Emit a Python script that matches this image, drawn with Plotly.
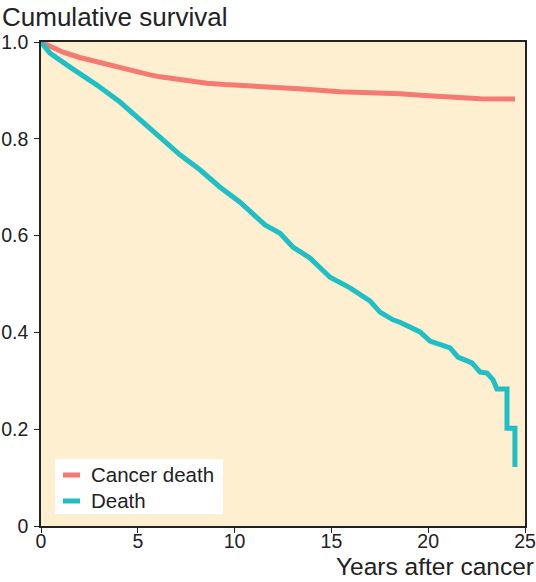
import plotly.graph_objects as go

# Cancer death survival curve (years, survival)
cancer_x = [0, 0.5, 1.14, 2.0, 2.89, 4.08, 4.6, 5.11, 5.63, 6.15, 7.2, 8.21, 8.57, 9.5, 10.95, 11.67, 13.5, 15.44, 17.5, 18.54, 20.0, 21.5, 22.7, 24.48]
cancer_y = [1.0, 0.99, 0.979, 0.968, 0.959, 0.946, 0.942, 0.936, 0.932, 0.928, 0.922, 0.917, 0.915, 0.912, 0.909, 0.907, 0.903, 0.897, 0.895, 0.893, 0.889, 0.886, 0.883, 0.882]

# All-cause death survival curve
death_x = [0, 0.2, 0.46, 1.5, 2.89, 4.08, 4.6, 5.11, 6.15, 7.18, 8.21, 9.25, 10.28, 10.95, 11.57, 12.35, 13.02, 13.89, 14.93, 15.96, 16.48, 16.99, 17.51, 18.18, 18.54, 19.06, 19.58, 20.09, 20.61, 21.13, 21.54, 22.0, 22.26, 22.68, 23.04, 23.35, 23.55, 24.07, 24.07, 24.48, 24.48]
death_y = [1.0, 0.99, 0.977, 0.948, 0.911, 0.876, 0.858, 0.838, 0.802, 0.767, 0.736, 0.700, 0.669, 0.643, 0.622, 0.605, 0.576, 0.554, 0.514, 0.492, 0.477, 0.465, 0.442, 0.426, 0.421, 0.411, 0.401, 0.382, 0.376, 0.368, 0.349, 0.343, 0.337, 0.318, 0.316, 0.302, 0.283, 0.283, 0.202, 0.202, 0.122]

series_names = ["Cancer death", "Death"]

x_ticks = [0, 5, 10, 15, 20, 25]
y_ticks = [0, 0.2, 0.4, 0.6, 0.8, 1.0]
y_ticktext = ["0", "0.2", "0.4", "0.6", "0.8", "1.0"]

FONT = "Liberation Sans, Arial, Helvetica, sans-serif"
RED = "#F57A72"
TEAL = "#1FBFC6"
INK = "#222222"
colors = [RED, TEAL]

# plot area geometry (pixels)
L, R, T, B = 41, 11, 42, 56
PW, PH = 536 - L - R, 582 - T - B

def px_x(p):
    return (p - L) / PW

def px_y(p):
    return (582 - B - p) / PH

fig = go.Figure()
fig.add_trace(go.Scatter(x=cancer_x, y=cancer_y, mode="lines", name=series_names[0],
                         line=dict(color=RED, width=5), showlegend=False))
fig.add_trace(go.Scatter(x=death_x, y=death_y, mode="lines", name=series_names[1],
                         line=dict(color=TEAL, width=5), showlegend=False))

# legend drawn as a white box with short line keys
shapes = [dict(type="rect", xref="paper", yref="paper",
               x0=px_x(55), x1=px_x(223), y0=px_y(514), y1=px_y(459),
               fillcolor="white", line=dict(width=0), layer="above")]
annotations = []
for i, (name, col) in enumerate(zip(series_names, colors)):
    yc = 474 + 26 * i
    shapes.append(dict(type="line", xref="paper", yref="paper",
                       x0=px_x(63), x1=px_x(80), y0=px_y(yc + 1), y1=px_y(yc + 1),
                       line=dict(color=col, width=5), layer="above"))
    annotations.append(dict(text=name, xref="paper", yref="paper",
                            x=px_x(89), y=px_y(yc), xanchor="left", yanchor="middle",
                            showarrow=False, font=dict(size=20.5, family=FONT, color=INK)))

annotations += [
    dict(text="Cumulative survival", xref="paper", yref="paper",
         x=px_x(0), y=px_y(0), xanchor="left", yanchor="top",
         showarrow=False, font=dict(size=26, family=FONT, color=INK)),
    dict(text="Years after cancer", xref="paper", yref="paper",
         x=px_x(536), y=px_y(582), xanchor="right", yanchor="bottom",
         showarrow=False, font=dict(size=24.5, family=FONT, color=INK)),
]

fig.update_layout(
    width=536, height=582,
    margin=dict(l=L, r=R, t=T, b=B, autoexpand=False),
    paper_bgcolor="white",
    plot_bgcolor="#FDEFCF",
    font=dict(family=FONT, color=INK, size=20),
    showlegend=False,
    shapes=shapes,
    annotations=annotations,
    xaxis=dict(range=[0, 25], tickvals=x_ticks, showgrid=False, zeroline=False,
               showline=True, linecolor=INK, linewidth=1.5, mirror=True,
               ticks="outside", ticklen=5, tickcolor=INK, automargin=False,
               ticklabeloverflow="allow", ticklabelstandoff=-8,
               tickfont=dict(size=19.5, family=FONT, color=INK)),
    yaxis=dict(range=[0, 1.0], tickvals=y_ticks, ticktext=y_ticktext, showgrid=False,
               zeroline=False, showline=True, linecolor=INK, linewidth=1.5,
               mirror=True, ticks="outside", ticklen=5, tickcolor=INK, automargin=False,
               ticklabeloverflow="allow", ticklabelstandoff=2,
               tickfont=dict(size=19.5, family=FONT, color=INK)),
)

fig.write_html("out.html")
